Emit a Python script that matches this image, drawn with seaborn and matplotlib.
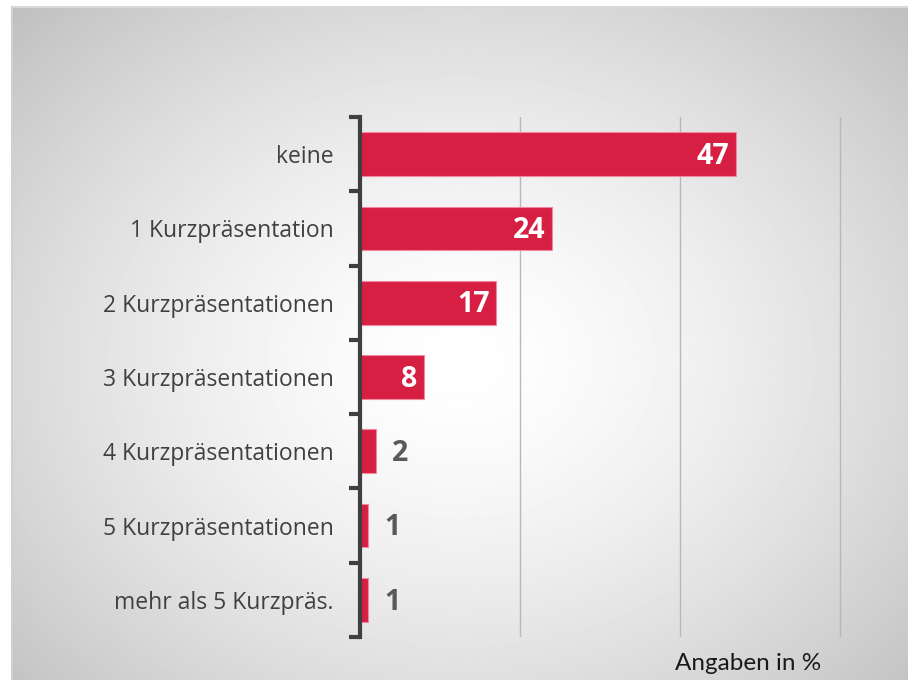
import numpy as np
import pandas as pd
import seaborn as sns
import matplotlib.pyplot as plt

categories = ["keine", "1 Kurzpräsentation", "2 Kurzpräsentationen", "3 Kurzpräsentationen",
              "4 Kurzpräsentationen", "5 Kurzpräsentationen", "mehr als 5 Kurzpräs."]
values = [47, 24, 17, 8, 2, 1, 1]

df = pd.DataFrame({"kategorie": categories, "anteil": values})

sns.set_style("white")
plt.rcParams["font.family"] = ["Open Sans", "DejaVu Sans"]

W, H = 908, 680
fig = plt.figure(figsize=(W / 100, H / 100), dpi=100)

# radial grey background inside frame
bg = fig.add_axes([12 / W, 0, 1 - 12 / W, 1 - 7 / H])
yy, xx = np.mgrid[0:400, 0:600]
cx, cy = 300, 210
r = np.sqrt(((xx - cx) / 600) ** 2 + ((yy - cy) / 430) ** 2)
shade = 1.0 - 0.25 * np.clip(r / 0.7, 0, 1) ** 1.5
bg.imshow(shade, cmap="gray", vmin=0, vmax=1, aspect="auto", extent=[0, 1, 0, 1])
bg.set_axis_off()
fig.add_artist(plt.Line2D([12 / W, 1], [1 - 7 / H, 1 - 7 / H], color="#d8d8d8", lw=1.5))
fig.add_artist(plt.Line2D([12 / W, 12 / W], [0, 1 - 7 / H], color="#d0d0d0", lw=1.5))

ax = fig.add_axes([360 / W, 1 - 637 / H, 488 / W, (637 - 117) / H])
ax.patch.set_alpha(0)
sns.barplot(data=df, x="anteil", y="kategorie", orient="h", color="#D61F42", saturation=1,
            width=0.59, edgecolor="#f08aa0", linewidth=0.8, ax=ax)

ax.set_xlim(0, 61)
ax.set_ylim(6.5, -0.5)
ax.set_xticks([20, 40, 60])
ax.xaxis.grid(True, color="#b8b8b8", lw=1)
ax.set_axisbelow(True)
ax.tick_params(axis="x", length=0, labelbottom=False)
ax.set_xlabel("")
ax.set_ylabel("")
for s in ["top", "right", "bottom"]:
    ax.spines[s].set_visible(False)
ax.spines["left"].set_color("#3f3f3f")
ax.spines["left"].set_linewidth(3)

ax.set_yticks(np.arange(-0.5, 7, 1), minor=True)
ax.tick_params(axis="y", which="minor", left=True, length=8, width=3, color="#3f3f3f")
ax.tick_params(axis="y", which="major", length=0, pad=19, labelsize=16.5, labelcolor="#404040")

for i, v in enumerate(values):
    if v >= 5:
        ax.text(v - 0.8, i + 0.03, str(v), ha="right", va="center", color="white",
                fontsize=20.5, fontweight="bold")
    else:
        ax.text(v + 2.0, i + 0.03, str(v), ha="left", va="center", color="#595959",
                fontsize=20.5, fontweight="bold")

fig.text(748 / W, 1 - 663 / H, "Angaben in %", ha="center", va="center",
         fontsize=17.5, color="#1a1a1a", family=["Lato", "DejaVu Sans"])

fig.savefig("out.png", dpi=100)
